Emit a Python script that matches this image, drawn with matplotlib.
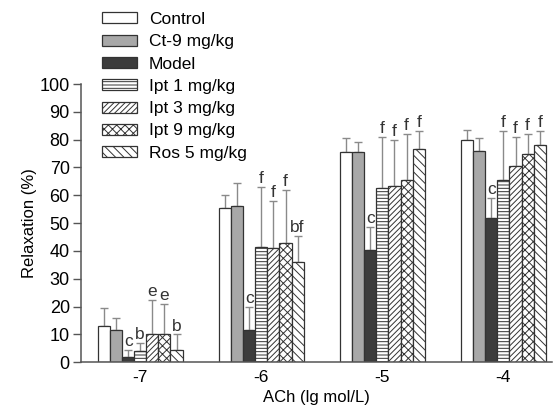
import numpy as np
import matplotlib
matplotlib.use('Agg')
import matplotlib.pyplot as plt

plt.rcParams['font.family'] = ['Liberation Sans', 'DejaVu Sans']
plt.rcParams['hatch.linewidth'] = 0.7

# 데이터
conc_labels = ['-7', '-6', '-5', '-4']
groups = ['Control', 'Ct-9 mg/kg', 'Model', 'Ipt 1 mg/kg', 'Ipt 3 mg/kg', 'Ipt 9 mg/kg', 'Ros 5 mg/kg']

control = [13, 55.5, 75.5, 80]
ct9 = [11.5, 56, 75.5, 76]
model = [1.8, 11.5, 40.5, 52]
ipt1 = [4, 41.5, 62.5, 65.5]
ipt3 = [10, 41, 63.5, 70.5]
ipt9 = [10, 43, 65.5, 75]
ros5 = [4.5, 36, 76.5, 78]

control_err = [6.5, 4.5, 5, 3.5]
ct9_err = [4.5, 8.5, 3.5, 4.5]
model_err = [2.5, 8.5, 8, 7]
ipt1_err = [2.8, 21.5, 18.5, 17.5]
ipt3_err = [12.5, 17, 16.5, 10.5]
ipt9_err = [11, 19, 16.5, 7]
ros5_err = [5.5, 9.5, 6.5, 5]

# 유의성 표시
model_sig = ['c', 'c', 'c', 'c']
ipt1_sig = ['b', 'f', 'f', 'f']
ipt3_sig = ['e', 'f', 'f', 'f']
ipt9_sig = ['e', 'f', 'f', 'f']
ros5_sig = ['b', 'bf', 'f', 'f']

values = [control, ct9, model, ipt1, ipt3, ipt9, ros5]
errors = [control_err, ct9_err, model_err, ipt1_err, ipt3_err, ipt9_err, ros5_err]
sigs = [None, None, model_sig, ipt1_sig, ipt3_sig, ipt9_sig, ros5_sig]

# 스타일
colors = ['white', '#a8a8a8', '#3c3c3c', 'white', 'white', 'white', 'white']
hatches = [None, None, None, '-----', '//////', 'xxxx', '\\\\\\\\']

fig = plt.figure(figsize=(5.58, 4.12), dpi=100)
ax = fig.add_axes([0.145, 0.121, 0.844, 0.675])

x = np.arange(len(conc_labels))
w = 0.1
for i in range(len(groups)):
    pos = x + (i - 3) * w
    ax.bar(pos, values[i], w, color=colors[i], edgecolor='#333333', linewidth=0.9,
           hatch=hatches[i], label=groups[i], zorder=2)
    ax.errorbar(pos, values[i], yerr=[np.zeros(4), errors[i]], fmt='none',
                ecolor='#8a8a8a', elinewidth=1.0, capsize=3, capthick=1.0, zorder=1)
    if sigs[i] is not None:
        for j in range(4):
            ax.text(pos[j], values[i][j] + errors[i][j] + 0.3, sigs[i][j],
                    ha='center', va='bottom', fontsize=12.5, color='#333333')

ax.set_xlim(-0.49, 3.4)
ax.set_ylim(0, 100)
ax.set_yticks(np.arange(0, 101, 10))
ax.set_xticks(x)
ax.set_xticklabels(conc_labels)
ax.tick_params(axis='y', length=6, width=1, color='#555555', labelsize=13, pad=2)
ax.tick_params(axis='x', length=0, labelsize=12.5, pad=6)
for s in ['top', 'right']:
    ax.spines[s].set_visible(False)
for s in ['left', 'bottom']:
    ax.spines[s].set_color('#555555')
    ax.spines[s].set_linewidth(1.1)

ax.set_ylabel('Relaxation (%)', fontsize=12, labelpad=2)
ax.set_xlabel('ACh (lg mol/L)', fontsize=12, labelpad=3)

ax.legend(loc='upper left', bbox_to_anchor=(102 / 558, 1 - 12 / 412),
          bbox_transform=fig.transFigure, frameon=False, fontsize=12.5,
          borderpad=0, borderaxespad=0, handlelength=2.0, handleheight=0.6,
          handletextpad=0.7, labelspacing=0.42)

fig.savefig('out.png', dpi=100)
